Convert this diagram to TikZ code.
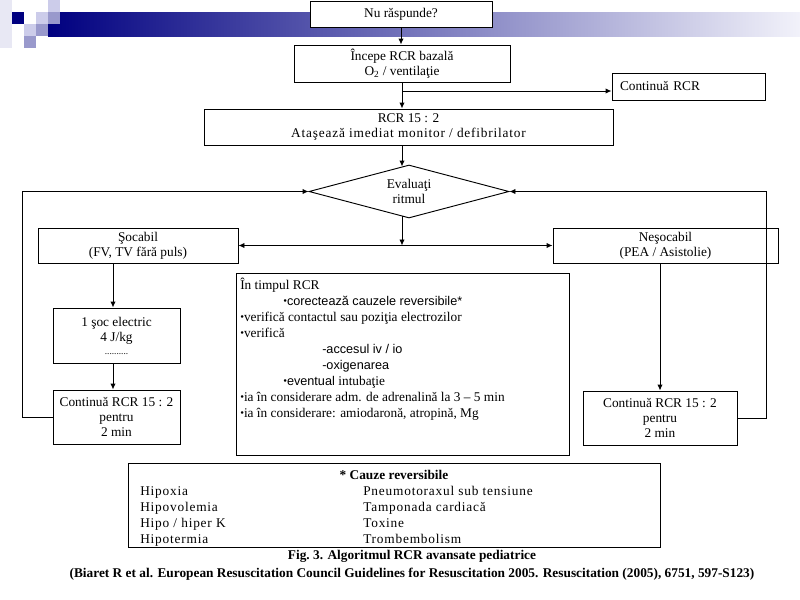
\documentclass[tikz,border=0pt]{standalone}
\usepackage{fontspec}
\setmainfont{Liberation Serif}
\setsansfont{Liberation Sans}
\usetikzlibrary{shapes.geometric,arrows.meta}
\definecolor{navy}{RGB}{0,0,128}
\definecolor{barend}{RGB}{242,242,250}
\definecolor{sqlight}{RGB}{204,204,234}
\definecolor{sqmed}{RGB}{153,153,204}
\definecolor{sqpale}{RGB}{232,232,244}
\newcommand{\bul}{{\rmfamily\fontsize{8}{8}\selectfont\raisebox{0.2ex}{•}}}
\begin{document}
\begin{tikzpicture}[x=0.75pt,y=-0.75pt,
  box/.style={draw,fill=white,line width=0.7pt,inner sep=0pt,align=center,font=\fontsize{10}{11.5}\selectfont},
  arr/.style={-{Latex[length=4.5pt,width=4pt]},line width=0.7pt},
  txt/.style={anchor=base west,inner sep=0pt,font=\fontsize{10}{12}\selectfont},
  stxt/.style={anchor=base west,inner sep=0pt,font=\sffamily\fontsize{9.5}{11}\selectfont},
  ctxt/.style={anchor=base west,inner sep=0pt,font=\addfontfeature{LetterSpace=6}\fontsize{10}{12}\selectfont},
  captxt/.style={inner sep=0pt,anchor=base,font=\bfseries\fontsize{10}{12}\selectfont},
]
\useasboundingbox (0,0) rectangle (800,600);
\fill[white] (0,0) rectangle (800,600);
% header decoration
\shade[left color=navy, right color=barend] (48,12) rectangle (800,36);
\fill[sqpale] (0,0) rectangle (12,48);
\fill[navy] (12,12) rectangle (24,24);
\fill[sqlight] (36,12) rectangle (48,24);
\fill[sqlight] (48,0) rectangle (60,12);
\fill[sqmed] (48,12) rectangle (60,24);
\fill[sqlight] (24,24) rectangle (36,36);
\fill[sqmed] (36,24) rectangle (48,36);
\fill[sqmed] (24,36) rectangle (36,48);

% boxes
\node[box,minimum width=136.5pt,minimum height=19.5pt] (nu) at (401,14) {Nu răspunde?};
\node[box,minimum width=162pt,minimum height=27.75pt] (incepe) at (402,63.5) {Începe RCR bazală\\O\textsubscript{2} / ventilaţie};
\node[box,minimum height=20.25pt,text width=102.75pt,inner xsep=6pt,align=left] (cont) at (688.5,86.5) {Continuă RCR};
\node[box,minimum width=306.75pt,minimum height=27pt] (rcr) at (408.5,127) {RCR 15 : 2\\{\addfontfeature{LetterSpace=6}Ataşează imediat monitor / defibrilator}};
\node[box,diamond,aspect=3.75,minimum width=150pt,minimum height=39.75pt] (dia) at (409,191.5) {Evaluaţi\\ritmul};
\node[box,minimum width=150pt,minimum height=26.25pt] (socabil) at (138,245.5) {Şocabil\\(FV, TV fără puls)};
\node[box,minimum width=168.75pt,minimum height=26.25pt] (nesocabil) at (665.5,245.5) {Neşocabil\\(PEA / Asistolie)};
\node[box,minimum width=95.25pt,minimum height=41.25pt] (soc) at (116.5,335.5) {1 şoc electric\\4 J/kg\\[-2pt]{\fontsize{7}{7}\selectfont ..........}};
\node[box,minimum width=95.25pt,minimum height=40.5pt] (contL) at (116.5,417) {Continuă RCR 15 : 2\\pentru\\2 min};
\node[box,minimum width=115.5pt,minimum height=40.5pt] (contR) at (660,418) {Continuă RCR 15 : 2\\pentru\\2 min};

% central box
\node[box,anchor=north west,minimum width=249.75pt,minimum height=136.5pt] (mid) at (236,273) {};
\node[txt] (t1) at (240,289) {În timpul RCR};
\node[stxt] (t2) at (283,305) {\bul corectează cauzele reversibile*};
\node[txt] (t3) at (240,321) {\bul verifică contactul sau poziţia electrozilor};
\node[txt] (t4) at (240,337) {\bul verifică};
\node[stxt] (t5) at (322,353) {-accesul iv / io};
\node[stxt] (t6) at (322,369) {-oxigenarea};
\node[stxt] (t7) at (283,385) {\bul eventual {\rmfamily\fontsize{10}{12}\selectfont intubaţie}};
\node[txt] (t8) at (240,401) {\bul ia în considerare adm. de adrenalină la 3 – 5 min};
\node[txt] (t9) at (240,417) {\bul ia în considerare: amiodaronă, atropină, Mg};

% causes box
\node[box,anchor=north west,minimum width=399pt,minimum height=63pt] (causes) at (128,463) {};
\node[captxt] (ch) at (394,479) {* Cauze reversibile};
\node[ctxt] (c1) at (140,495) {Hipoxia};
\node[ctxt] (c2) at (140,511) {Hipovolemia};
\node[ctxt] (c3) at (140,527) {Hipo / hiper K};
\node[ctxt] (c4) at (140,543) {Hipotermia};
\node[ctxt] (d1) at (363,495) {Pneumotoraxul sub tensiune};
\node[ctxt] (d2) at (363,511) {Tamponada cardiacă};
\node[ctxt] (d3) at (363,527) {Toxine};
\node[ctxt] (d4) at (363,543) {Trombembolism};

% caption
\node[captxt] (fig) at (412,559) {Fig.\ 3. Algoritmul RCR avansate pediatrice};
\node[captxt] (ref) at (412,577) {(Biaret R et al. European Resuscitation Council Guidelines for Resuscitation 2005. Resuscitation (2005), 6751, 597-S123)};

% connectors
\coordinate (j1) at (402,91);
\coordinate (lc) at (22,0);
\coordinate (rc) at (766,0);
\coordinate (lx) at (113,0);
\draw[arr] (nu.south) -- (nu.south |- incepe.north);
\draw[arr] (incepe.south) -- (incepe.south |- rcr.north);
\draw[arr] (j1) -- (j1 -| cont.west);
\draw[arr] (incepe.south |- rcr.south) -- ([yshift=-1.5pt]incepe.south |- dia.north);
\draw[arr] ([yshift=1.5pt]incepe.south |- dia.south) -- (incepe.south |- socabil.east);
\draw[arr] (incepe.south |- socabil.east) -- (socabil.east);
\draw[arr] (incepe.south |- socabil.east) -- (nesocabil.west);
\draw[arr] (lx |- socabil.south) -- (lx |- soc.north);
\draw[arr] (lx |- soc.south) -- (lx |- contL.north);
\draw[arr] (contR.north |- nesocabil.south) -- (contR.north);
\draw[arr] (contL.west) -| (lc |- dia.west) -- (dia.west);
\draw[arr] (contR.east) -| (rc |- dia.east) -- (dia.east);
\end{tikzpicture}
\end{document}
